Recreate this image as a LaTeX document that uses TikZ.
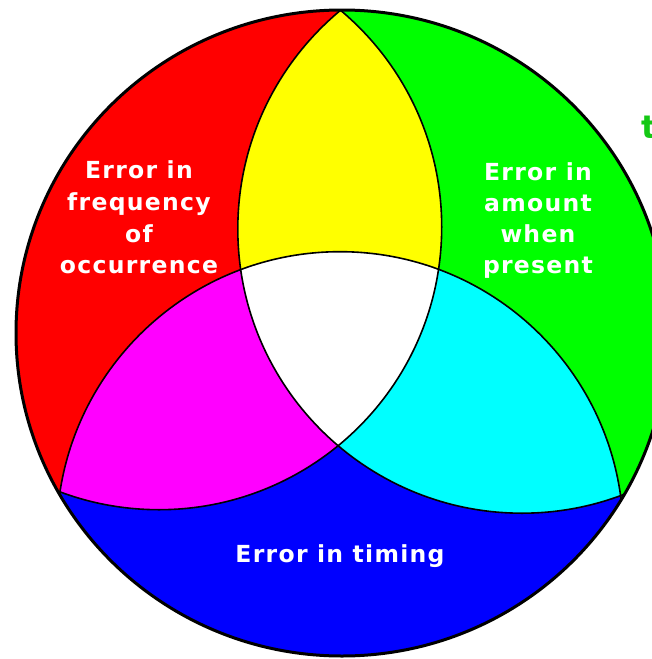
\documentclass[tikz,border=0pt]{standalone}
\usepackage{fontspec}
\newfontfamily\lblfont{DejaVu Sans}[LetterSpace=5.5]
\definecolor{cRed}{RGB}{255,0,0}
\definecolor{cGreen}{RGB}{0,255,0}
\definecolor{cBlue}{RGB}{0,0,255}
\definecolor{cYellow}{RGB}{255,255,0}
\definecolor{cMagenta}{RGB}{255,0,255}
\definecolor{cCyan}{RGB}{0,255,255}
\definecolor{cTitle}{RGB}{20,200,20}
\tikzset{
  lbl/.style={text=white, inner sep=0pt, anchor=base,
    font=\lblfont\bfseries\fontsize{23.5}{31.7}\selectfont},
  arcline/.style={draw=black, line width=1.6pt},
  rimline/.style={draw=black, line width=3pt}
}
\begin{document}
\begin{tikzpicture}[x=1pt,y=-1pt]
\useasboundingbox (0,0) rectangle (652,659);
\coordinate (O) at (342,333);
\coordinate (CR) at (159,227);
\coordinate (CG) at (522,229);
\coordinate (CB) at (340,535);
\begin{scope}
  \clip (O) ellipse [x radius=326pt, y radius=323pt];
  % base sectors
  \fill[cRed] (O) -- (340,-100) -- (-100,-100) -- (-100,582) -- cycle;
  \fill[cBlue] (O) -- (-100,582) -- (-100,760) -- (760,760) -- (759,578) -- cycle;
  \fill[cGreen] (O) -- (759,578) -- (760,-100) -- (340,-100) -- cycle;
  % single circles
  \fill[cRed] (CR) circle [radius=282.7pt];
  \fill[cGreen] (CG) circle [radius=284.2pt];
  \fill[cBlue] (CB) circle [radius=283.3pt];
  % pairwise overlaps
  \begin{scope}
    \clip (CR) circle [radius=282.7pt];
    \fill[cYellow] (CG) circle [radius=284.2pt];
    \fill[cMagenta] (CB) circle [radius=283.3pt];
  \end{scope}
  \begin{scope}
    \clip (CG) circle [radius=284.2pt];
    \fill[cCyan] (CB) circle [radius=283.3pt];
  \end{scope}
  % triple overlap
  \begin{scope}
    \clip (CR) circle [radius=282.7pt];
    \clip (CG) circle [radius=284.2pt];
    \fill[white] (CB) circle [radius=283.3pt];
  \end{scope}
  % arcs
  \draw[arcline] (CR) circle [radius=282.7pt];
  \draw[arcline] (CG) circle [radius=284.2pt];
  \draw[arcline] (CB) circle [radius=283.3pt];
\end{scope}
\draw[rimline] (O) ellipse [x radius=326pt, y radius=323pt];
% labels
\node[lbl] (r1) at (139,178) {Error in};
\node[lbl] (r2) at (139,210) {frequency};
\node[lbl] (r3) at (139,242) {of};
\node[lbl] (r4) at (139,273) {occurrence};
\node[lbl] (g1) at (538,180) {Error in};
\node[lbl] (g2) at (538,211) {amount};
\node[lbl] (g3) at (538,242) {when};
\node[lbl] (g4) at (538,273) {present};
\node[lbl] (b1) at (340,562) {Error in timing};
\node[text=cTitle, inner sep=0pt, anchor=base west,
  font=\lblfont\bfseries\fontsize{32}{36}\selectfont] (t1) at (641,138) {t};
\end{tikzpicture}
\end{document}
